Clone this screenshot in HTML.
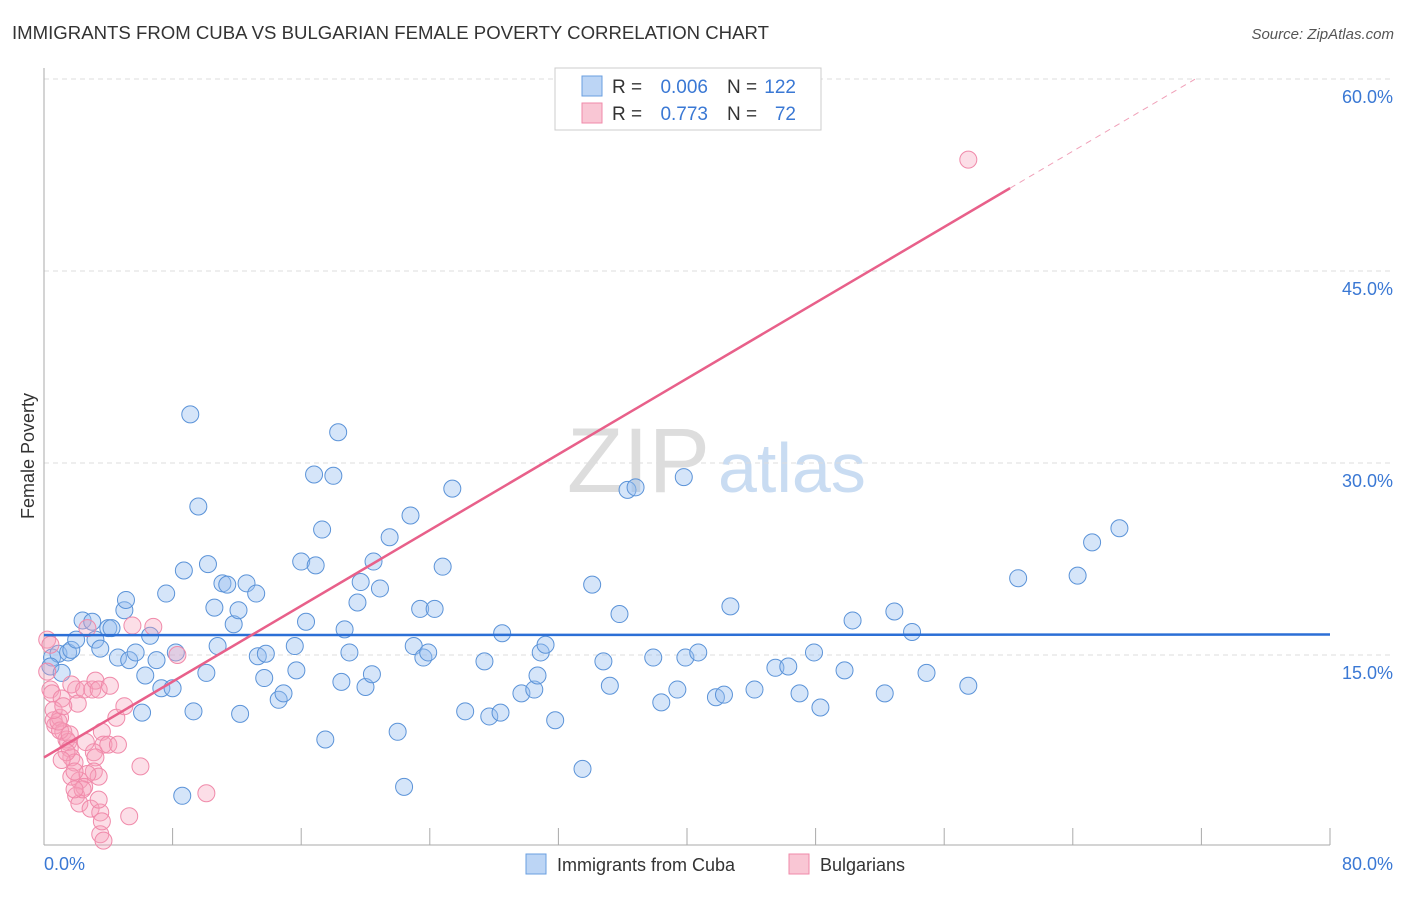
<!DOCTYPE html>
<html><head><meta charset="utf-8"><style>
body{margin:0;background:#fff;font-family:"Liberation Sans",sans-serif}
svg text{font-family:"Liberation Sans",sans-serif}
</style></head><body>
<svg id="chart" width="1406" height="892">
<text x="12" y="39" font-size="18.6" fill="#333">IMMIGRANTS FROM CUBA VS BULGARIAN FEMALE POVERTY CORRELATION CHART</text>
<text x="1394" y="39" font-size="15" fill="#555" font-style="italic" text-anchor="end">Source: ZipAtlas.com</text>
<text x="710" y="492" font-size="92" fill="#ddd" font-family="Liberation Serif" text-anchor="end">ZIP</text>
<text x="718" y="492" font-size="70" fill="#c9dcf2">atlas</text>
<g id="grid"></g><g id="axes"></g><g id="marks"></g>
<text x="34" y="456" font-size="18" fill="#333" text-anchor="middle" transform="rotate(-90 34 456)">Female Poverty</text>
<g>
<rect x="555" y="68" width="266" height="62" fill="#fff" stroke="#ccc"/>
<rect x="582" y="76" width="20" height="20" fill="#bcd5f5" stroke="#6a9fe0"/>
<rect x="582" y="103" width="20" height="20" fill="#f9c6d4" stroke="#f08aaa"/>
<text x="612" y="93" font-size="19" fill="#333">R =</text>
<text x="708" y="93" font-size="19" fill="#3a78d4" text-anchor="end">0.006</text>
<text x="727" y="93" font-size="19" fill="#333">N =</text>
<text x="796" y="93" font-size="19" fill="#3a78d4" text-anchor="end">122</text>
<text x="612" y="120" font-size="19" fill="#333">R =</text>
<text x="708" y="120" font-size="19" fill="#3a78d4" text-anchor="end">0.773</text>
<text x="727" y="120" font-size="19" fill="#333">N =</text>
<text x="796" y="120" font-size="19" fill="#3a78d4" text-anchor="end">72</text>
</g>
<g>
<rect x="526" y="854" width="20" height="20" fill="#bcd5f5" stroke="#6a9fe0"/>
<text x="557" y="871" font-size="18" fill="#333">Immigrants from Cuba</text>
<rect x="789" y="854" width="20" height="20" fill="#f9c6d4" stroke="#f08aaa"/>
<text x="820" y="871" font-size="18" fill="#333">Bulgarians</text>
</g>
</svg>
<script>
const yTicks=[15,30,45,60];
const xTickLabels=["0.0%","80.0%"];
const cubaX=[0.5,0.9,0.4,1.1,1.5,1.7,2.4,3.0,3.2,3.5,2.0,4.0,4.2,5.0,5.1,4.6,5.3,5.7,6.6,6.3,7.0,7.3,8.0,8.2,6.1,7.6,8.7,9.1,9.6,9.3,10.2,10.6,11.1,11.4,11.8,12.1,12.6,13.2,10.8,10.1,8.6,12.2,13.3,13.7,13.8,14.6,14.9,15.7,15.6,16.0,16.3,16.9,16.8,17.3,18.0,18.3,18.7,19.0,18.5,17.5,19.5,19.7,20.0,20.5,20.4,20.9,21.5,22.8,22.0,22.4,23.0,23.4,23.6,23.9,24.3,24.8,25.4,26.2,27.4,27.7,28.4,28.5,29.7,30.5,30.7,30.9,31.2,31.8,33.5,34.1,34.8,35.2,35.8,36.3,36.8,37.9,38.4,39.4,39.8,39.9,40.7,41.8,42.3,42.7,44.2,45.5,46.3,47.0,47.9,48.3,49.8,50.3,52.3,52.9,54.0,54.9,57.5,60.6,64.3,65.2,66.9];
const cubaY=[14.8,15.1,14.1,13.6,15.2,15.4,17.7,17.6,16.2,15.5,16.2,17.1,17.1,18.5,19.3,14.8,14.6,15.2,16.5,13.4,14.6,12.4,12.4,15.2,10.5,19.8,21.6,33.8,26.6,10.6,22.1,18.7,20.6,20.5,17.4,18.5,20.6,19.8,15.7,13.6,4.0,10.4,14.9,13.2,15.1,11.5,12.0,13.8,15.7,22.3,17.6,22.0,29.1,24.8,29.0,32.4,17.0,15.2,12.9,8.4,19.1,20.7,12.5,22.3,13.5,20.2,24.2,25.9,9.0,4.7,15.7,18.6,14.8,15.2,18.6,21.9,28.0,10.6,14.5,10.2,10.5,16.7,12.0,12.3,13.4,15.2,15.8,9.9,6.1,20.5,14.5,12.6,18.2,27.9,28.1,14.8,11.3,12.3,28.9,14.8,15.2,11.7,11.9,18.8,12.3,14.0,14.1,12.0,15.2,10.9,13.8,17.7,12.0,18.4,16.8,13.6,12.6,21.0,21.2,23.8,24.9];
const bulgX=[0.2,0.4,0.2,0.4,0.5,0.6,0.7,1.0,1.1,1.2,1.4,1.5,1.6,1.7,1.9,2.0,1.7,2.1,2.5,2.7,3.0,3.2,3.4,3.6,3.7,4.0,4.1,3.1,3.2,3.1,3.4,2.7,2.2,2.5,2.0,2.2,2.4,2.9,3.5,3.4,3.5,3.6,3.7,4.6,4.5,5.0,5.5,6.0,5.3,6.8,8.3,10.1,57.5,1.0,0.9,0.6,1.4,1.6,1.2,1.1,1.7,1.9,2.6,1.9];
const bulgY=[16.2,15.8,13.7,12.3,12.0,9.9,9.5,10.1,11.6,9.0,8.4,8.2,7.7,7.0,6.6,12.3,12.7,11.2,12.3,17.1,12.3,13.0,12.3,9.0,8.0,8.0,12.6,7.4,7.0,5.9,5.5,5.7,5.2,4.7,4.0,3.4,4.5,3.0,2.7,3.7,1.0,2.0,0.5,8.0,10.1,11.0,17.3,6.3,2.4,17.2,15.0,4.2,53.7,9.1,9.8,10.7,7.4,8.8,11.0,6.8,5.5,4.5,8.2,5.9];
const cubaTrend=[16.55,16.6];
const bulgTrend=[7.0,0.74];
const NS="http://www.w3.org/2000/svg";
const sx=v=>44+v*(1330-44)/80, sy=v=>847-v*12.8;
function mk(parent,tag,attrs){const e=document.createElementNS(NS,tag);for(const k in attrs)e.setAttribute(k,attrs[k]);document.getElementById(parent).appendChild(e);return e;}
yTicks.forEach(t=>{
 const l=mk('grid','line',{x1:44,x2:1394,y1:sy(t),y2:sy(t),stroke:'#ddd','stroke-dasharray':'5,4'});
 
 
 const tx=mk('grid','text',{x:1393,y:sy(t)+24,'font-size':18,fill:'#3a78d4','text-anchor':'end'});
 tx.textContent=t.toFixed(1)+'%';
 
 
});
let a=mk('axes','line',{x1:44,x2:44,y1:68,y2:845,stroke:'#aaa'});


a=mk('axes','line',{x1:44,x2:1330,y1:845,y2:845,stroke:'#aaa'});


for(let i=0;i<=10;i++){const t=mk('axes','line',{x1:sx(i*8),x2:sx(i*8),y1:828,y2:845,stroke:'#aaa'});
 
 }
let xl=mk('axes','text',{x:44,y:870,'font-size':18,fill:'#3a78d4'});xl.textContent=xTickLabels[0];


xl=mk('axes','text',{x:1393,y:870,'font-size':18,fill:'#3a78d4','text-anchor':'end'});xl.textContent=xTickLabels[1];


cubaX.forEach((x,i)=>{const c=mk('marks','circle',{cx:sx(x),cy:sy(cubaY[i]),r:8.5,fill:'rgba(150,190,240,0.4)',stroke:'#5b93d8','stroke-width':1});
 
 });
bulgX.forEach((x,i)=>{const c=mk('marks','circle',{cx:sx(x),cy:sy(bulgY[i]),r:8.5,fill:'rgba(245,160,185,0.35)',stroke:'#f08aaa','stroke-width':1});
 
 });
let t1=mk('marks','line',{x1:sx(0),y1:sy(cubaTrend[0]),x2:sx(80),y2:sy(cubaTrend[1]),stroke:'#2b6fd6','stroke-width':2.5});


const bx=60.1,bx2=71.6;
let t2=mk('marks','line',{x1:sx(0),y1:sy(bulgTrend[0]),x2:sx(bx),y2:sy(bulgTrend[0]+bulgTrend[1]*bx),stroke:'#e8608a','stroke-width':2.5});


let t3=mk('marks','line',{x1:sx(bx),y1:sy(bulgTrend[0]+bulgTrend[1]*bx),x2:sx(bx2),y2:sy(bulgTrend[0]+bulgTrend[1]*bx2),stroke:'#f0a0b8','stroke-width':1,'stroke-dasharray':'6,5'});


</script>
</body></html>
